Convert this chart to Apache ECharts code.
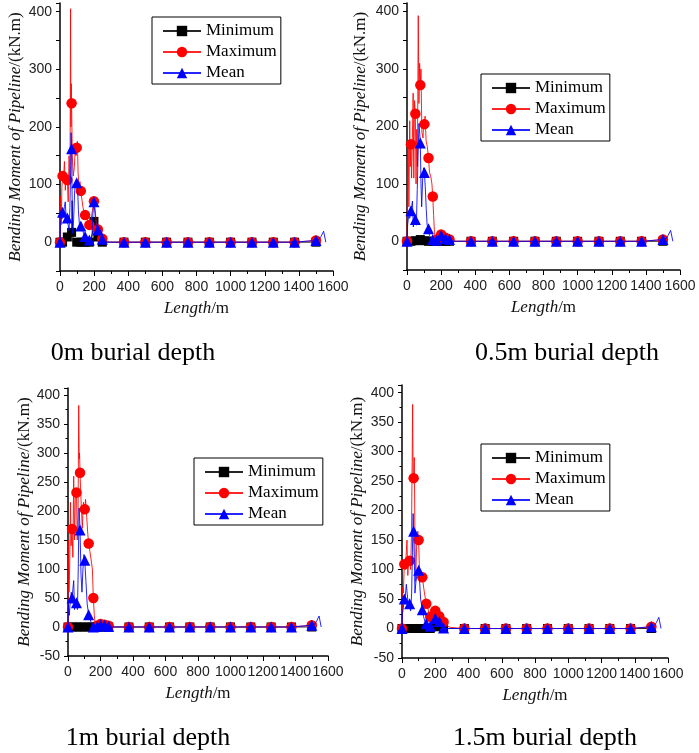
<!DOCTYPE html>
<html><head><meta charset="utf-8">
<script src="https://cdn.jsdelivr.net/npm/echarts@6/dist/echarts.min.js"></script>
<style>html,body{margin:0;padding:0;background:#fff}#c{width:699px;height:753px}</style>
</head><body><div id="c"></div>
<script>
// ---------- DATA ----------
const seriesNames = ['Minimum', 'Maximum', 'Mean'];
const captions = ['0m burial depth', '0.5m burial depth', '1m burial depth', '1.5m burial depth'];
const xTicks = [0, 200, 400, 600, 800, 1000, 1200, 1400, 1600];

// shared tail markers (Length / m) and values
const tailX = [375, 500, 625, 750, 875, 1000, 1125, 1250, 1375, 1500];
const tailMin = [0, 0, 0, 0, 0, 0, 0, 0, 0, 0];
const tailMax = [0, 0, 0, 0, 0, 0, 0, 0, 0, 3];
const tailMean = [0, 0, 0, 0, 0, 0, 0, 0, 0, 3];
const meanEnd = [[1515, 4], [1530, 10], [1545, 19], [1558, 0]];

// panel 1: 0m
const markX1 = [0, 15, 43, 68, 98, 122, 147, 172, 199, 222, 248];
const min1 = [0, 0, 9, 17, 0, 0, 0, 0, 36, 9, 0];
const max1 = [0, 115, 108, 241, 164, 89, 47, 30, 71, 22, 6];
const mean1 = [0, 52, 42, 162, 103, 28, 10, 4, 70, 21, 5];
const minLine1 = [[8,0],[25,2],[32,10],[38,6],[50,10],[56,16],[62,12],[71,72],[74,20],[77,0],[110,0],[135,0],[160,0],[185,5],[192,20],[206,30],[212,15],[235,3],[290,0]];
const maxLine1 = [[3,80],[7,30],[11,95],[20,105],[26,140],[31,90],[37,120],[48,70],[53,150],[57,110],[59,150],[62,405],[64,200],[66,275],[72,150],[78,115],[84,130],[90,165],[94,150],[102,175],[106,120],[112,95],[117,105],[128,75],[135,60],[141,52],[155,45],[162,38],[180,35],[190,55],[205,60],[212,35],[230,14],[238,9],[262,1],[290,0]];
const meanLine1 = [[3,30],[8,55],[11,40],[20,48],[26,62],[31,70],[36,40],[48,30],[53,20],[58,60],[62,120],[65,190],[71,80],[75,15],[80,40],[86,90],[92,100],[103,95],[108,55],[114,30],[130,25],[138,15],[155,8],[163,5],[180,3],[188,15],[193,50],[205,50],[212,30],[230,14],[238,8],[260,1],[290,0]];

// panel 2: 0.5m
const markX2 = [0, 23, 49, 78, 102, 126, 151, 175, 200, 226, 249];
const min2 = [0, 0, 1, 3, 1, 0, 0, 0, 0, 0, 0];
const max2 = [0, 169, 222, 272, 204, 145, 78, 3, 12, 6, 3];
const mean2 = [0, 53, 38, 171, 120, 22, 3, 2, 10, 5, 3];
const minLine2 = [[10,0],[35,1],[60,2],[70,4],[88,2],[113,0],[140,0],[290,0]];
const maxLine2 = [[3,90],[7,170],[11,60],[16,210],[19,130],[27,110],[31,170],[36,258],[40,110],[44,245],[53,100],[57,195],[61,130],[66,393],[70,240],[74,310],[82,300],[87,190],[94,180],[98,212],[106,218],[112,175],[119,165],[132,120],[140,112],[146,100],[156,45],[161,15],[166,4],[188,8],[213,9],[238,4],[262,1],[290,0]];
const meanLine2 = [[4,30],[10,45],[16,40],[28,62],[32,70],[37,25],[44,45],[55,28],[60,90],[65,150],[70,205],[74,190],[82,100],[86,60],[92,110],[97,128],[107,95],[113,55],[118,28],[132,10],[140,4],[163,2],[188,6],[213,7],[238,4],[262,0],[290,0]];

// panel 3: 1m
const markX3 = [0, 25, 52, 74, 103, 127, 156, 180, 200, 225, 250];
const min3 = [0, 0, 0, 0, 0, 0, 0, 0, 0, 0, 0];
const max3 = [0, 169, 232, 266, 203, 144, 50, 2, 5, 4, 2];
const mean3 = [0, 50, 42, 167, 115, 21, 0, 1, 4, 3, 1];
const minLine3 = [[10,0],[290,0]];
const maxLine3 = [[3,150],[6,60],[10,100],[15,215],[19,140],[30,120],[35,260],[40,150],[45,220],[57,150],[62,200],[66,382],[69,290],[71,300],[80,220],[88,170],[95,215],[108,220],[115,190],[122,160],[135,130],[145,110],[150,100],[162,20],[167,5],[190,4],[212,6],[238,3],[270,0],[290,0]];
const meanLine3 = [[3,40],[8,20],[14,45],[20,60],[30,65],[35,80],[40,30],[46,45],[58,30],[63,100],[68,205],[71,190],[80,90],[86,60],[92,100],[98,125],[110,80],[118,40],[135,15],[145,5],[168,0],[190,2],[212,5],[238,2],[265,0],[290,0]];

// panel 4: 1.5m
const markX4 = [0, 14, 46, 70, 100, 122, 146, 170, 200, 224, 250];
const min4 = [0, 0, 0, 0, 0, 0, 0, 0, 3, 6, 0];
const max4 = [0, 109, 115, 255, 150, 87, 42, 20, 30, 21, 11];
const mean4 = [0, 50, 42, 165, 99, 32, 8, 4, 17, 12, 1];
const minLine4 = [[10,0],[185,0],[212,6],[237,2],[290,0]];
const maxLine4 = [[3,70],[8,60],[20,100],[26,130],[30,150],[35,90],[40,120],[52,100],[57,160],[61,280],[64,380],[67,250],[74,290],[78,150],[82,80],[88,140],[95,165],[105,100],[112,100],[130,70],[138,55],[155,35],[162,25],[180,22],[190,28],[212,25],[237,15],[265,5],[290,2],[330,1]];
const meanLine4 = [[3,25],[8,35],[20,55],[26,75],[31,60],[36,45],[52,30],[58,60],[64,150],[67,195],[74,120],[78,60],[84,80],[92,95],[106,80],[112,50],[130,20],[138,12],[155,6],[185,8],[212,14],[237,6],[265,0],[290,0]];

// ---------- LAYOUT ----------
const panels = [
  {markX: markX1, min: min1, max: max1, mean: mean1, minLine: minLine1, maxLine: maxLine1, meanLine: meanLine1,
   grid: {left: 60, top: 3, width: 273, height: 268}, yMax: 415, step: 100, nameGap: 36,
   legend: {left: 152, top: 17}, cap: [133, 353]},
  {markX: markX2, min: min2, max: max2, mean: mean2, minLine: minLine2, maxLine: maxLine2, meanLine: meanLine2,
   grid: {left: 407, top: 3, width: 273, height: 267}, yMax: 415, step: 100, nameGap: 38,
   legend: {left: 481, top: 74}, cap: [567, 353]},
  {markX: markX3, min: min3, max: max3, mean: mean3, minLine: minLine3, maxLine: maxLine3, meanLine: meanLine3,
   grid: {left: 68, top: 388, width: 260, height: 268}, yMax: 412, step: 50, nameGap: 34,
   legend: {left: 194, top: 458}, cap: [148, 738]},
  {markX: markX4, min: min4, max: max4, mean: mean4, minLine: minLine4, maxLine: maxLine4, meanLine: meanLine4,
   grid: {left: 402, top: 385, width: 266, height: 273}, yMax: 413, step: 50, nameGap: 36,
   legend: {left: 481, top: 444}, cap: [545, 738]}
];

function build(markX, markY, line, tailY, extra) {
  const pts = [];
  line.forEach(p => pts.push({value: [p[0], p[1]], symbol: 'none'}));
  markX.forEach((x, i) => pts.push({value: [x, markY[i]]}));
  tailX.forEach((x, i) => pts.push({value: [x, tailY[i]]}));
  (extra || []).forEach(p => pts.push({value: [p[0], p[1]], symbol: 'none'}));
  pts.sort((a, b) => a.value[0] - b.value[0]);
  return pts;
}

const serif = 'Liberation Serif';
const sans = 'Liberation Sans';
const styles = [
  {symbol: 'rect', size: 9, color: '#000000'},
  {symbol: 'circle', size: 10.5, color: '#ff0000'},
  {symbol: 'triangle', size: 11, color: '#0000ff'}
];

const grids = [], xAxes = [], yAxes = [], series = [], legends = [], graphics = [];
panels.forEach((p, i) => {
  grids.push(Object.assign({containLabel: false}, p.grid));
  xAxes.push({
    type: 'value', gridIndex: i, min: 0, max: 1600, interval: 200,
    axisLine: {show: true, onZero: false, lineStyle: {color: '#000', width: 1.5}},
    axisTick: {show: true, length: 5, lineStyle: {color: '#000', width: 1}},
    minorTick: {show: true, splitNumber: 2, length: 3, lineStyle: {color: '#000', width: 1}},
    splitLine: {show: false},
    axisLabel: {fontFamily: sans, fontSize: 14, color: '#222', margin: 9,
      formatter: v => xTicks.indexOf(v) >= 0 ? String(v) : ''},
    name: '{i|Length}/m', nameLocation: 'middle', nameGap: 29,
    nameTextStyle: {fontFamily: serif, fontSize: 17, color: '#111',
      rich: {i: {fontFamily: serif, fontSize: 17, fontStyle: 'italic', color: '#111'}}}
  });
  yAxes.push({
    type: 'value', gridIndex: i, min: -50, max: p.yMax, interval: 50,
    axisLine: {show: true, onZero: false, lineStyle: {color: '#000', width: 1.5}},
    axisTick: {show: true, length: 4, lineStyle: {color: '#000', width: 1}},
    minorTick: {show: p.step === 50, splitNumber: 2, length: 2.5, lineStyle: {color: '#000', width: 1}},
    splitLine: {show: false},
    axisLabel: {fontFamily: sans, fontSize: 14, color: '#222', margin: 8,
      formatter: v => (v % p.step === 0 && v <= 400 && (p.step === 50 || v >= 0)) ? String(v) : ''},
    name: '{i|Bending Moment of Pipeline}/(kN.m)', nameLocation: 'middle', nameGap: p.nameGap,
    nameTextStyle: {fontFamily: serif, fontSize: 17, color: '#111',
      rich: {i: {fontFamily: serif, fontSize: 17, fontStyle: 'italic', color: '#111'}}}
  });
  const ys = [p.min, p.max, p.mean];
  const lines = [p.minLine, p.maxLine, p.meanLine];
  const tails = [tailMin, tailMax, tailMean];
  ys.forEach((yv, k) => {
    const st = styles[k];
    series.push({
      type: 'line', name: seriesNames[k], xAxisIndex: i, yAxisIndex: i,
      data: build(p.markX, yv, lines[k], tails[k], k === 2 ? meanEnd : null),
      symbol: st.symbol, symbolSize: st.size, showSymbol: true,
      itemStyle: {color: st.color}, lineStyle: {color: st.color, width: 1, opacity: 0.85},
      z: 2 + k, animation: false
    });
  });
  legends.push({
    orient: 'vertical', left: p.legend.left, top: p.legend.top,
    padding: [5, 4, 2, 10], itemGap: 3, itemWidth: 38, itemHeight: 13,
    borderColor: '#000', borderWidth: 1, backgroundColor: '#fff',
    textStyle: {fontFamily: serif, fontSize: 17, color: '#000', lineHeight: 18},
    data: seriesNames, selectedMode: false, z: 10
  });
  graphics.push({
    type: 'text', x: p.cap[0], y: p.cap[1],
    style: {text: captions[i], fontFamily: serif, fontSize: 26, fill: '#000',
      textAlign: 'center', textVerticalAlign: 'middle'}
  });
});

const chart = echarts.init(document.getElementById('c'), null, {renderer: 'canvas'});
chart.setOption({
  animation: false,
  backgroundColor: '#fff',
  grid: grids, xAxis: xAxes, yAxis: yAxes, series: series, legend: legends,
  graphic: graphics
});
</script></body></html>
